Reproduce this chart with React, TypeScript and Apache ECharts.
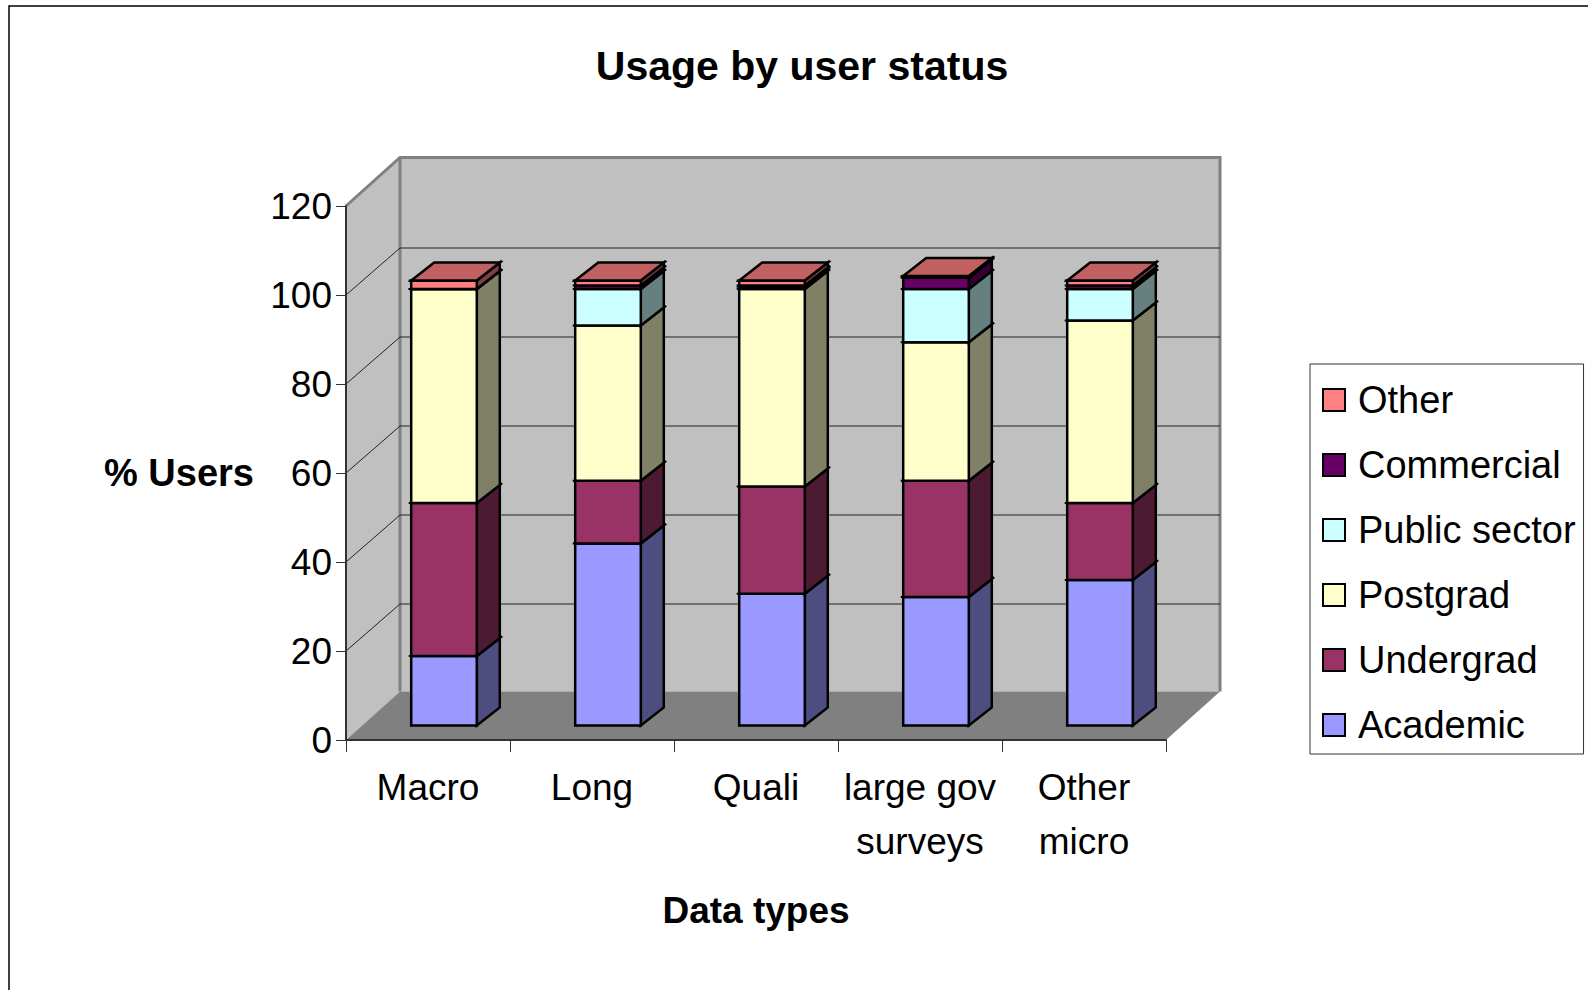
import React, { useEffect, useRef } from "react";
import * as echarts from "echarts";

const categories = ["Macro", "Long", "Quali", "large gov\nsurveys", "Other\nmicro"];
const academic = [15.6, 40.9, 29.6, 28.9, 32.7];
const undergrad = [34.4, 14.1, 24.1, 26.1, 17.3];
const postgrad = [48.1, 34.9, 44.4, 31.1, 41.0];
const publicSector = [0, 8.2, 0.5, 12.0, 7.1];
const commercial = [0, 0.8, 0.3, 2.5, 0.8];
const other = [1.9, 1.1, 1.1, 0.4, 1.1];
const yTicks = [0, 20, 40, 60, 80, 100, 120];

const layers = [
  { name: "Academic", values: academic, color: "#9999ff", side: "#4d4d80" },
  { name: "Undergrad", values: undergrad, color: "#993366", side: "#4d1a33" },
  { name: "Postgrad", values: postgrad, color: "#ffffcc", side: "#808066" },
  { name: "Public sector", values: publicSector, color: "#ccffff", side: "#668080" },
  { name: "Commercial", values: commercial, color: "#660066", side: "#330033" },
  { name: "Other", values: other, color: "#ff8080", side: "#804040" },
];

const FONT = "'Liberation Sans', Arial, sans-serif";
const WALL_DX = 54;
const WALL_DY = -48.5;
const GRID_DY = -47;
const BAR_DX = 16;
const BAR_DY = -14.5;
const BAR_DEPTH_X = 23;
const BAR_DEPTH_Y = -18;
const BAR_WIDTH_RATIO = 0.4;
const STUB = 2.5;

function renderWalls(params: any, api: any) {
  const value = api.value(0) as number;
  const cs = params.coordSys;
  const l = cs.x;
  const r = cs.x + cs.width;
  const t = cs.y;
  const b = cs.y + cs.height;
  const y = api.coord([0, value])[1];
  const children: any[] = [];
  if (value === 0) {
    children.push(
      {
        type: "polygon",
        shape: { points: [[l + WALL_DX, t + WALL_DY], [r + WALL_DX, t + WALL_DY], [r + WALL_DX, b + WALL_DY], [l + WALL_DX, b + WALL_DY]] },
        style: { fill: "#c0c0c0", stroke: "none" },
      },
      {
        type: "polygon",
        shape: { points: [[l, t], [l + WALL_DX, t + WALL_DY], [l + WALL_DX, b + WALL_DY], [l, b]] },
        style: { fill: "#c0c0c0", stroke: "none" },
      },
      {
        type: "polygon",
        shape: { points: [[l, b], [l + WALL_DX, b + WALL_DY], [r + WALL_DX, b + WALL_DY], [r, b]] },
        style: { fill: "#808080", stroke: "none" },
      },
      {
        type: "polyline",
        shape: { points: [[l, t], [l + WALL_DX, t + WALL_DY], [r + WALL_DX, t + WALL_DY], [r + WALL_DX, b + WALL_DY]] },
        style: { fill: "none", stroke: "#808080", lineWidth: 3 },
      },
      {
        type: "line",
        shape: { x1: l + WALL_DX, y1: t + WALL_DY, x2: l + WALL_DX, y2: b + WALL_DY },
        style: { stroke: "#808080", lineWidth: 3 },
      }
    );
  } else if (value < yTicks[yTicks.length - 1]) {
    children.push({
      type: "polyline",
      shape: { points: [[l, y], [l + WALL_DX, y + GRID_DY], [r + WALL_DX, y + GRID_DY]] },
      style: { fill: "none", stroke: "#222222", lineWidth: 1 },
    });
  }
  return { type: "group", children };
}

function renderBar(top: boolean, fill: string, side: string) {
  return (_params: any, api: any) => {
    const cat = api.value(0);
    const p0 = api.coord([cat, api.value(1)]);
    const p1 = api.coord([cat, api.value(2)]);
    const w = api.size([1, 0])[0] * BAR_WIDTH_RATIO;
    const x0 = p0[0] + BAR_DX - w / 2;
    const x1 = x0 + w;
    const yb = p0[1] + BAR_DY;
    const yt = p1[1] + BAR_DY;
    const stroke = { stroke: "#000000", lineWidth: 2.5, lineJoin: "miter" };
    const children: any[] = [
      {
        type: "polygon",
        shape: { points: [[x1, yb], [x1 + BAR_DEPTH_X, yb + BAR_DEPTH_Y], [x1 + BAR_DEPTH_X, yt + BAR_DEPTH_Y], [x1, yt]] },
        style: { fill: side, ...stroke },
      },
      {
        type: "polygon",
        shape: { points: [[x0, yb], [x1, yb], [x1, yt], [x0, yt]] },
        style: { fill, ...stroke },
      },
      {
        type: "polyline",
        shape: { points: [[x0 - STUB, yt], [x1, yt], [x1 + BAR_DEPTH_X + STUB, yt + BAR_DEPTH_Y - STUB * 0.7]] },
        style: { fill: "none", stroke: "#000000", lineWidth: 2 },
      },
    ];
    if (top) {
      children.push({
        type: "polygon",
        shape: { points: [[x0, yt], [x1, yt], [x1 + BAR_DEPTH_X, yt + BAR_DEPTH_Y], [x0 + BAR_DEPTH_X, yt + BAR_DEPTH_Y]] },
        style: { fill: "#c06060", ...stroke },
      });
    }
    return { type: "group", children };
  };
}

export default function App() {
  const ref = useRef<HTMLDivElement>(null);
  useEffect(() => {
    const chart = echarts.init(ref.current!, undefined, { renderer: "svg" });
    const cumulative = categories.map(() => 0);
    const barSeries = layers.map((layer, li) => {
      const data = layer.values.map((v, i) => {
        const row = [i, cumulative[i], cumulative[i] + v];
        cumulative[i] += v;
        return row;
      });
      return {
        type: "custom" as const,
        name: layer.name,
        z: 3,
        clip: false,
        silent: true,
        encode: { x: 0, y: [1, 2] },
        itemStyle: { color: layer.color, borderColor: "#000", borderWidth: 2 },
        renderItem: renderBar(li === layers.length - 1, layer.color, layer.side),
        data,
      };
    });
    chart.setOption({
      animation: false,
      backgroundColor: "#ffffff",
      textStyle: { fontFamily: FONT, color: "#000" },
      title: {
        text: "Usage by user status",
        left: 797,
        top: 40,
        textAlign: "center",
        textStyle: { fontFamily: FONT, fontSize: 41, fontWeight: "bold", color: "#000" },
      },
      grid: { left: 346, top: 206, width: 820, height: 534, containLabel: false },
      xAxis: {
        type: "category",
        data: categories,
        z: 5,
        name: "Data types",
        nameLocation: "middle",
        nameGap: 152,
        nameTextStyle: { fontFamily: FONT, fontSize: 37, fontWeight: "bold", color: "#000" },
        axisLine: { lineStyle: { color: "#333", width: 2 } },
        axisTick: { show: true, length: 12, lineStyle: { color: "#333", width: 1 } },
        axisLabel: { fontFamily: FONT, fontSize: 37, color: "#000", lineHeight: 54, margin: 20, interval: 0 },
      },
      yAxis: {
        type: "value",
        min: 0,
        max: 120,
        interval: 20,
        z: 5,
        name: "% Users",
        nameLocation: "middle",
        nameRotate: 0,
        nameGap: 92,
        nameTextStyle: { fontFamily: FONT, fontSize: 38, fontWeight: "bold", color: "#000", padding: [0, 0, 10, 0] },
        axisLine: { show: true, lineStyle: { color: "#333", width: 2 } },
        axisTick: { show: true, length: 10, lineStyle: { color: "#333", width: 1 } },
        axisLabel: { fontFamily: FONT, fontSize: 37, color: "#000", margin: 14 },
        splitLine: { show: false },
      },
      legend: {
        orient: "vertical",
        left: 1310,
        top: 364,
        padding: [14, 8, 7, 12],
        itemWidth: 22,
        itemHeight: 22,
        itemGap: 21,
        backgroundColor: "#ffffff",
        borderColor: "#333",
        borderWidth: 1,
        borderRadius: 0,
        selectedMode: false,
        textStyle: { fontFamily: FONT, fontSize: 38, color: "#000", lineHeight: 44, padding: [0, 0, 0, 8] },
        data: [...layers].reverse().map((l) => ({
          name: l.name,
          icon: "rect",
          itemStyle: { color: l.color, borderColor: "#000", borderWidth: 2 },
        })),
      },
      graphic: [
        {
          type: "polyline",
          z: 10,
          silent: true,
          shape: { points: [[9, 990], [9, 6], [1588, 6]] },
          style: { fill: "none", stroke: "#000", lineWidth: 1.5 },
        },
      ],
      series: [
        {
          type: "custom",
          name: "walls",
          z: 1,
          clip: false,
          silent: true,
          encode: { y: 0 },
          renderItem: renderWalls,
          data: yTicks.map((v) => [v]),
        },
        ...barSeries,
      ],
    });
    return () => chart.dispose();
  }, []);
  return <div ref={ref} style={{ position: "absolute", left: 0, top: 0, width: 1588, height: 990 }} />;
}
